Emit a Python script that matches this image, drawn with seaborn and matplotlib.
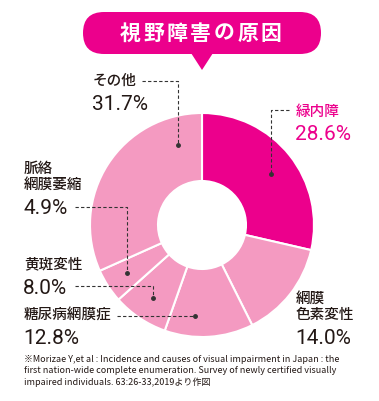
import matplotlib
matplotlib.use("Agg")
import matplotlib.pyplot as plt
import seaborn as sns
from matplotlib.patches import FancyBboxPatch, Polygon

# data
causes = ['緑内障', '網膜色素変性', '糖尿病網膜症', '黄斑変性', '脈絡網膜萎縮', 'その他']
label_lines = ['緑内障', '網膜\n色素変性', '糖尿病網膜症', '黄斑変性', '脈絡\n網膜萎縮', 'その他']
shares = [28.6, 14.0, 12.8, 8.0, 4.9, 31.7]
title = '視野障害の原因'
note = ('※Morizae Y,et al : Incidence and causes of visual impairment in Japan : the\n'
        'first nation-wide complete enumeration. Survey of newly certified visually\n'
        'impaired individuals. 63:26-33,2019より作図')

sns.set_theme(style="white")
plt.rcParams['font.family'] = ['Noto Sans CJK JP', 'DejaVu Sans']

W, H = 379, 401
PINK = '#EC008C'
LIGHT = '#F49AC1'
INK = '#231815'

def Y(y):
    return H - y

fig = plt.figure(figsize=(W / 100, H / 100), dpi=100)
ax = fig.add_axes([0, 0, 1, 1])

colors = [PINK] + [LIGHT] * (len(shares) - 1)
ax.pie(shares, startangle=90, counterclock=False, colors=colors,
       radius=112, center=(202, Y(225)),
       wedgeprops=dict(width=68, edgecolor='white', linewidth=1.5))

ax.set_xlim(0, W)
ax.set_ylim(0, H)
ax.set_aspect('equal')
ax.axis('off')

# title balloon
pill = FancyBboxPatch((83, Y(54)), 238, 42, boxstyle="round,pad=0,rounding_size=21",
                      fc=PINK, ec='none')
ax.add_patch(pill)
ax.add_patch(Polygon([(191, Y(53)), (213, Y(53)), (202, Y(70))], closed=True, fc=PINK, ec='none'))
# spread the title characters a little, like the original
n = len(title)
for i, ch in enumerate(title):
    ax.text(130 + i * 23.5, Y(33), ch, color='white', fontsize=15, fontweight='bold',
            ha='center', va='center')

# labels: (name x, name y, pct y, color)
lab = {
    '緑内障': (296, 112, 135, PINK),
    '網膜色素変性': (296, 307, 338, INK),
    '糖尿病網膜症': (24, 316, 338, INK),
    '黄斑変性': (24, 264, 288, INK),
    '脈絡網膜萎縮': (24, 177, 208, INK),
    'その他': (93, 81, 105, INK),
}
for c, ln, v in zip(causes, label_lines, shares):
    x, yn, yp, col = lab[c]
    ax.text(x, Y(yn), ln, color=col, fontsize=10.5, ha='left', va='center',
            linespacing=1.2, fontweight='medium')
    ax.text(x - 1, Y(yp), f'{v:.1f}%', color=col, fontsize=15, ha='left', va='center',
            family=['Roboto', 'DejaVu Sans'])

# leader lines
leaders = [
    [(142, 81), (178, 81), (178, 145)],
    [(289, 110), (271, 110), (271, 174)],
    [(75, 207), (127, 207), (127, 273)],
    [(75, 286), (153, 286), (153, 298)],
    [(117, 316), (195, 316)],
]
for pts in leaders:
    xs = [p[0] for p in pts]
    ys = [Y(p[1]) for p in pts]
    ax.plot(xs, ys, color='#333333', lw=0.8, ls=(0, (3, 2)))
    ax.plot(xs[-1], ys[-1], 'o', color='#333333', ms=2.5)

ax.text(24, Y(355), note, color=INK, fontsize=6.5, ha='left', va='top', linespacing=1.3)

fig.savefig('out.png', dpi=100)
